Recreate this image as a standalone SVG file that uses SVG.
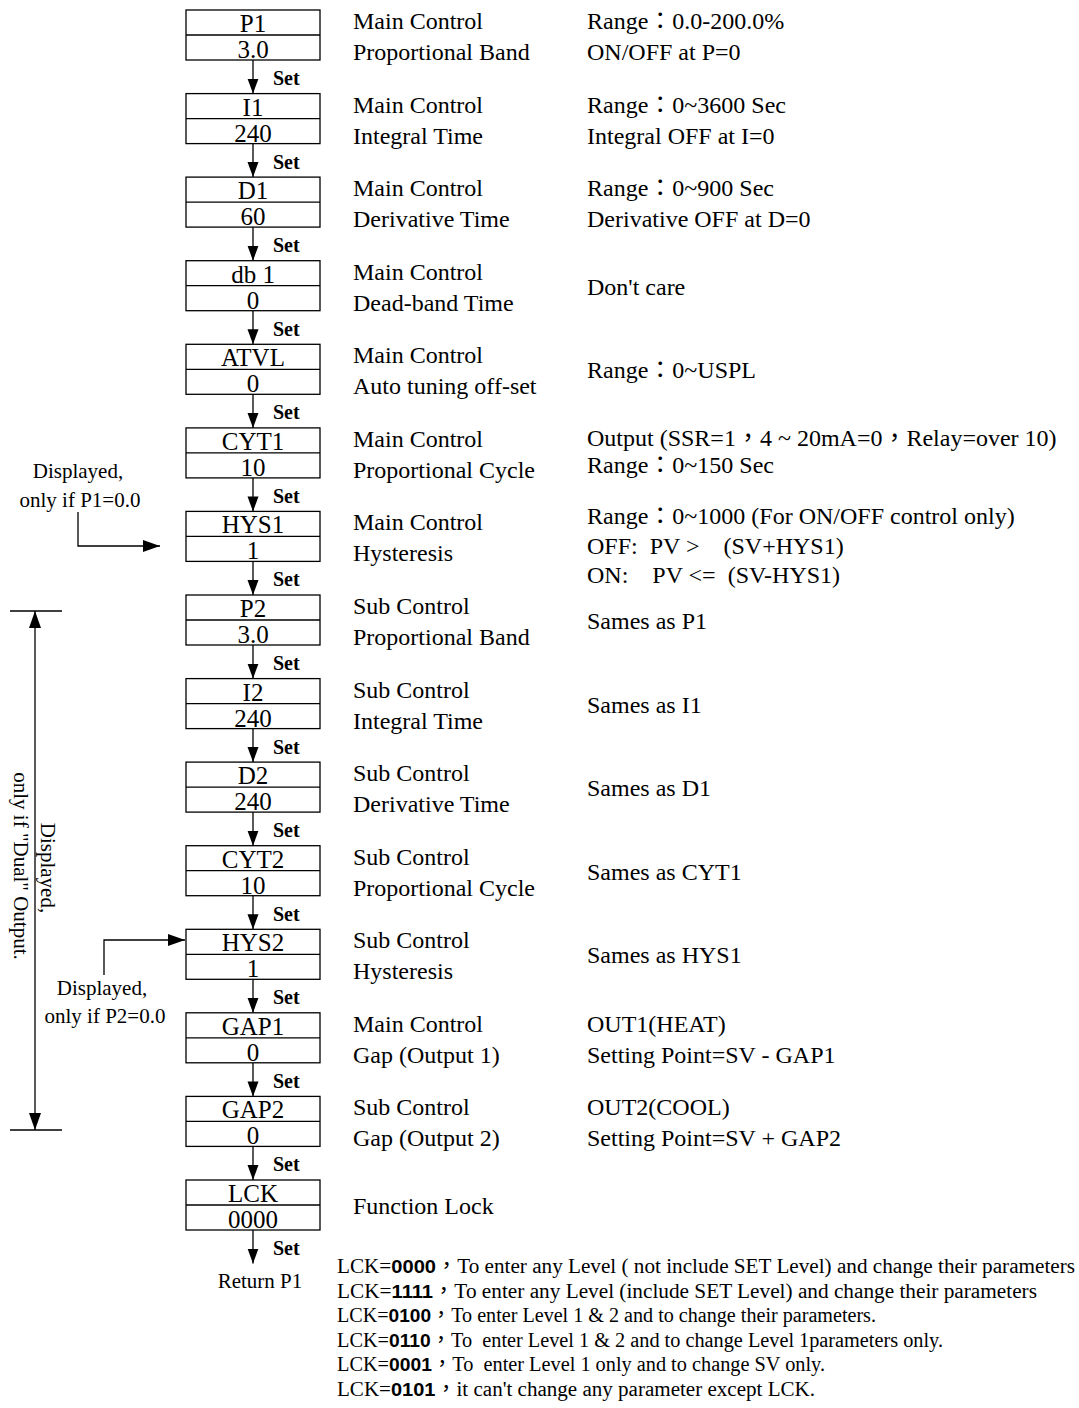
<svg xmlns="http://www.w3.org/2000/svg" width="1079" height="1408" viewBox="0 0 1079 1408">
<defs>
<marker id="ah" markerUnits="userSpaceOnUse" markerWidth="16" markerHeight="12" refX="15" refY="5.5" orient="auto-start-reverse" viewBox="0 0 16 11">
<path d="M0,0 L15,5.5 L0,11 Z" fill="#000"/>
</marker>
<marker id="ah2" markerUnits="userSpaceOnUse" markerWidth="18" markerHeight="12" refX="17" refY="6" orient="auto-start-reverse" viewBox="0 0 18 12">
<path d="M0,0 L17,6 L0,12 Z" fill="#000"/>
</marker>
</defs>
<style>
text{font-family:"Liberation Serif","Noto Sans CJK TC",serif;fill:#000}
.bx rect{fill:#fff;stroke:#000;stroke-width:1.3}
.bx line{stroke:#000;stroke-width:1.3}
.bt{font-size:25px;text-anchor:middle}
.d{font-size:24px}
.s{font-size:20px;font-weight:bold}
.n{font-size:21px;text-anchor:middle}
.l{font-size:20px}
.b{font-family:"Liberation Sans",sans-serif;font-weight:bold;font-size:19px}
.c line,.c path{stroke:#000;stroke-width:1.3;fill:none}
</style>
<rect width="1079" height="1408" fill="#fff"/>

<g id="connectors" class="c">
<line x1="253" y1="60" x2="253" y2="93.6" marker-end="url(#ah)"/>
<line x1="253" y1="143.6" x2="253" y2="177.1" marker-end="url(#ah)"/>
<line x1="253" y1="227.1" x2="253" y2="260.7" marker-end="url(#ah)"/>
<line x1="253" y1="310.7" x2="253" y2="344.3" marker-end="url(#ah)"/>
<line x1="253" y1="394.3" x2="253" y2="427.9" marker-end="url(#ah)"/>
<line x1="253" y1="477.9" x2="253" y2="511.4" marker-end="url(#ah)"/>
<line x1="253" y1="561.4" x2="253" y2="595" marker-end="url(#ah)"/>
<line x1="253" y1="645" x2="253" y2="678.6" marker-end="url(#ah)"/>
<line x1="253" y1="728.6" x2="253" y2="762.1" marker-end="url(#ah)"/>
<line x1="253" y1="812.1" x2="253" y2="845.7" marker-end="url(#ah)"/>
<line x1="253" y1="895.7" x2="253" y2="929.3" marker-end="url(#ah)"/>
<line x1="253" y1="979.3" x2="253" y2="1012.8" marker-end="url(#ah)"/>
<line x1="253" y1="1062.8" x2="253" y2="1096.4" marker-end="url(#ah)"/>
<line x1="253" y1="1146.4" x2="253" y2="1180" marker-end="url(#ah)"/>
<line x1="253" y1="1230" x2="253" y2="1263.5" marker-end="url(#ah)"/>
<text class="s" x="273" y="85">Set</text>
<text class="s" x="273" y="168.6">Set</text>
<text class="s" x="273" y="252.1">Set</text>
<text class="s" x="273" y="335.7">Set</text>
<text class="s" x="273" y="419.3">Set</text>
<text class="s" x="273" y="502.9">Set</text>
<text class="s" x="273" y="586.4">Set</text>
<text class="s" x="273" y="670">Set</text>
<text class="s" x="273" y="753.6">Set</text>
<text class="s" x="273" y="837.1">Set</text>
<text class="s" x="273" y="920.7">Set</text>
<text class="s" x="273" y="1004.3">Set</text>
<text class="s" x="273" y="1087.8">Set</text>
<text class="s" x="273" y="1171.4">Set</text>
<text class="s" x="273" y="1255">Set</text>
<text class="n" x="260" y="1288">Return P1</text>
<path d="M78,512 V546 H160" marker-end="url(#ah2)"/>
<path d="M104,975 V940 H185" marker-end="url(#ah2)"/>
<line x1="35" y1="611" x2="35" y2="1130" marker-start="url(#ah2)" marker-end="url(#ah2)"/>
<line x1="10" y1="611" x2="62" y2="611"/>
<line x1="10" y1="1130" x2="62" y2="1130"/>
</g>

<g id="note-p1">
<text class="n" x="78" y="478">Displayed,</text>
<text class="n" x="80" y="507">only if P1=0.0</text>
</g>
<g id="note-p2">
<text class="n" x="102" y="995">Displayed,</text>
<text class="n" x="105" y="1023">only if P2=0.0</text>
</g>
<g id="note-dual">
<text class="n" transform="translate(41,868) rotate(90)">Displayed,</text>
<text class="n" transform="translate(14,866) rotate(90)">only if "Dual" Output.</text>
</g>

<g id="node-p1" class="bx" transform="translate(0,10)">
<rect x="186" y="0" width="134" height="50"/><line x1="186" y1="25" x2="320" y2="25"/>
<text class="bt" x="253" y="22">P1</text><text class="bt" x="253" y="48">3.0</text>
<text class="d" x="353" y="19">Main Control</text><text class="d" x="353" y="50">Proportional Band</text>
<text class="d" x="587" y="19">Range：0.0-200.0%</text><text class="d" x="587" y="50">ON/OFF at P=0</text>
</g>
<g id="node-i1" class="bx" transform="translate(0,93.6)">
<rect x="186" y="0" width="134" height="50"/><line x1="186" y1="25" x2="320" y2="25"/>
<text class="bt" x="253" y="22">I1</text><text class="bt" x="253" y="48">240</text>
<text class="d" x="353" y="19">Main Control</text><text class="d" x="353" y="50">Integral Time</text>
<text class="d" x="587" y="19">Range：0~3600 Sec</text><text class="d" x="587" y="50">Integral OFF at I=0</text>
</g>
<g id="node-d1" class="bx" transform="translate(0,177.1)">
<rect x="186" y="0" width="134" height="50"/><line x1="186" y1="25" x2="320" y2="25"/>
<text class="bt" x="253" y="22">D1</text><text class="bt" x="253" y="48">60</text>
<text class="d" x="353" y="19">Main Control</text><text class="d" x="353" y="50">Derivative Time</text>
<text class="d" x="587" y="19">Range：0~900 Sec</text><text class="d" x="587" y="50">Derivative OFF at D=0</text>
</g>
<g id="node-db1" class="bx" transform="translate(0,260.7)">
<rect x="186" y="0" width="134" height="50"/><line x1="186" y1="25" x2="320" y2="25"/>
<text class="bt" x="253" y="22">db 1</text><text class="bt" x="253" y="48">0</text>
<text class="d" x="353" y="19">Main Control</text><text class="d" x="353" y="50">Dead-band Time</text>
<text class="d" x="587" y="34">Don't care</text>
</g>
<g id="node-atvl" class="bx" transform="translate(0,344.3)">
<rect x="186" y="0" width="134" height="50"/><line x1="186" y1="25" x2="320" y2="25"/>
<text class="bt" x="253" y="22">ATVL</text><text class="bt" x="253" y="48">0</text>
<text class="d" x="353" y="19">Main Control</text><text class="d" x="353" y="50">Auto tuning off-set</text>
<text class="d" x="587" y="34">Range：0~USPL</text>
</g>
<g id="node-cyt1" class="bx" transform="translate(0,427.9)">
<rect x="186" y="0" width="134" height="50"/><line x1="186" y1="25" x2="320" y2="25"/>
<text class="bt" x="253" y="22">CYT1</text><text class="bt" x="253" y="48">10</text>
<text class="d" x="353" y="19">Main Control</text><text class="d" x="353" y="50">Proportional Cycle</text>
<text class="d" x="587" y="18">Output (SSR=1，4 ~ 20mA=0，Relay=over 10)</text><text class="d" x="587" y="45">Range：0~150 Sec</text>
</g>
<g id="node-hys1" class="bx" transform="translate(0,511.4)">
<rect x="186" y="0" width="134" height="50"/><line x1="186" y1="25" x2="320" y2="25"/>
<text class="bt" x="253" y="22">HYS1</text><text class="bt" x="253" y="48">1</text>
<text class="d" x="353" y="19">Main Control</text><text class="d" x="353" y="50">Hysteresis</text>
<text class="d" x="587" y="13">Range：0~1000 (For ON/OFF control only)</text>
<text class="d" x="587" y="43" xml:space="preserve">OFF:  PV &gt;    (SV+HYS1)</text>
<text class="d" x="587" y="72" xml:space="preserve">ON:    PV &lt;=  (SV-HYS1)</text>
</g>
<g id="node-p2" class="bx" transform="translate(0,595)">
<rect x="186" y="0" width="134" height="50"/><line x1="186" y1="25" x2="320" y2="25"/>
<text class="bt" x="253" y="22">P2</text><text class="bt" x="253" y="48">3.0</text>
<text class="d" x="353" y="19">Sub Control</text><text class="d" x="353" y="50">Proportional Band</text>
<text class="d" x="587" y="34">Sames as P1</text>
</g>
<g id="node-i2" class="bx" transform="translate(0,678.6)">
<rect x="186" y="0" width="134" height="50"/><line x1="186" y1="25" x2="320" y2="25"/>
<text class="bt" x="253" y="22">I2</text><text class="bt" x="253" y="48">240</text>
<text class="d" x="353" y="19">Sub Control</text><text class="d" x="353" y="50">Integral Time</text>
<text class="d" x="587" y="34">Sames as I1</text>
</g>
<g id="node-d2" class="bx" transform="translate(0,762.1)">
<rect x="186" y="0" width="134" height="50"/><line x1="186" y1="25" x2="320" y2="25"/>
<text class="bt" x="253" y="22">D2</text><text class="bt" x="253" y="48">240</text>
<text class="d" x="353" y="19">Sub Control</text><text class="d" x="353" y="50">Derivative Time</text>
<text class="d" x="587" y="34">Sames as D1</text>
</g>
<g id="node-cyt2" class="bx" transform="translate(0,845.7)">
<rect x="186" y="0" width="134" height="50"/><line x1="186" y1="25" x2="320" y2="25"/>
<text class="bt" x="253" y="22">CYT2</text><text class="bt" x="253" y="48">10</text>
<text class="d" x="353" y="19">Sub Control</text><text class="d" x="353" y="50">Proportional Cycle</text>
<text class="d" x="587" y="34">Sames as CYT1</text>
</g>
<g id="node-hys2" class="bx" transform="translate(0,929.3)">
<rect x="186" y="0" width="134" height="50"/><line x1="186" y1="25" x2="320" y2="25"/>
<text class="bt" x="253" y="22">HYS2</text><text class="bt" x="253" y="48">1</text>
<text class="d" x="353" y="19">Sub Control</text><text class="d" x="353" y="50">Hysteresis</text>
<text class="d" x="587" y="34">Sames as HYS1</text>
</g>
<g id="node-gap1" class="bx" transform="translate(0,1012.8)">
<rect x="186" y="0" width="134" height="50"/><line x1="186" y1="25" x2="320" y2="25"/>
<text class="bt" x="253" y="22">GAP1</text><text class="bt" x="253" y="48">0</text>
<text class="d" x="353" y="19">Main Control</text><text class="d" x="353" y="50">Gap (Output 1)</text>
<text class="d" x="587" y="19">OUT1(HEAT)</text><text class="d" x="587" y="50">Setting Point=SV - GAP1</text>
</g>
<g id="node-gap2" class="bx" transform="translate(0,1096.4)">
<rect x="186" y="0" width="134" height="50"/><line x1="186" y1="25" x2="320" y2="25"/>
<text class="bt" x="253" y="22">GAP2</text><text class="bt" x="253" y="48">0</text>
<text class="d" x="353" y="19">Sub Control</text><text class="d" x="353" y="50">Gap (Output 2)</text>
<text class="d" x="587" y="19">OUT2(COOL)</text><text class="d" x="587" y="50">Setting Point=SV + GAP2</text>
</g>
<g id="node-lck" class="bx" transform="translate(0,1180)">
<rect x="186" y="0" width="134" height="50"/><line x1="186" y1="25" x2="320" y2="25"/>
<text class="bt" x="253" y="22">LCK</text><text class="bt" x="253" y="48">0000</text>
<text class="d" x="353" y="34">Function Lock</text>
</g>

<g id="lck-notes">
<text class="l" x="337" y="1273" textLength="738" lengthAdjust="spacingAndGlyphs">LCK=<tspan class="b">0000</tspan>，To enter any Level ( not include SET Level) and change their parameters</text>
<text class="l" x="337" y="1298" textLength="700" lengthAdjust="spacingAndGlyphs">LCK=<tspan class="b">1111</tspan>，To enter any Level (include SET Level) and change their parameters</text>
<text class="l" x="337" y="1322" textLength="539" lengthAdjust="spacingAndGlyphs">LCK=<tspan class="b">0100</tspan>，To enter Level 1 &amp; 2 and to change their parameters.</text>
<text class="l" x="337" y="1347" textLength="606" lengthAdjust="spacingAndGlyphs" xml:space="preserve">LCK=<tspan class="b">0110</tspan>，To  enter Level 1 &amp; 2 and to change Level 1parameters only.</text>
<text class="l" x="337" y="1371" textLength="488" lengthAdjust="spacingAndGlyphs" xml:space="preserve">LCK=<tspan class="b">0001</tspan>，To  enter Level 1 only and to change SV only.</text>
<text class="l" x="337" y="1396" textLength="478" lengthAdjust="spacingAndGlyphs">LCK=<tspan class="b">0101</tspan>，it can't change any parameter except LCK.</text>
</g>
</svg>
